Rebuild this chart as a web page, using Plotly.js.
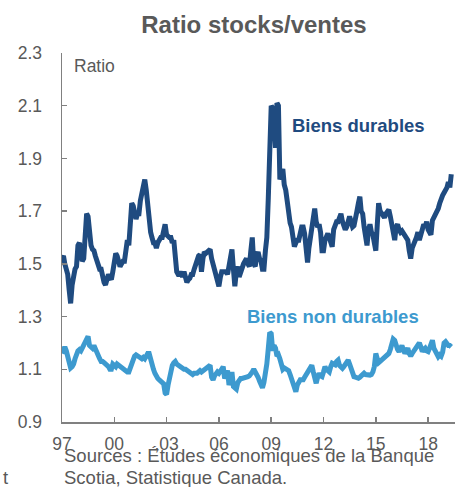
<!DOCTYPE html>
<html>
<head>
<meta charset="utf-8">
<script src="https://cdn.plot.ly/plotly-3.0.1.min.js"></script>
<style>
html,body{margin:0;padding:0;background:#fff;}
#chart{width:456px;height:487px;}
</style>
</head>
<body>
<div id="chart"></div>
<script>
// Monthly data, January 1997 onwards
var startYear = 1997;
var durables = [
1.52,1.53,1.50,1.47,1.46,1.40,1.35,1.42,1.465,1.48,1.49,1.57,
1.58,1.52,1.51,1.52,1.60,1.69,1.68,1.60,1.57,1.555,1.55,1.53,
1.51,1.50,1.48,1.48,1.45,1.43,1.42,1.44,1.46,1.45,1.44,1.47,
1.53,1.54,1.53,1.50,1.49,1.50,1.51,1.51,1.56,1.59,1.57,1.68,
1.73,1.72,1.70,1.67,1.69,1.69,1.74,1.77,1.80,1.82,1.78,1.72,
1.64,1.62,1.60,1.58,1.58,1.56,1.58,1.59,1.60,1.60,1.63,1.65,
1.61,1.60,1.60,1.60,1.58,1.59,1.52,1.47,1.46,1.46,1.47,1.45,
1.47,1.44,1.43,1.44,1.445,1.46,1.46,1.48,1.50,1.52,1.53,1.535,
1.47,1.52,1.545,1.54,1.545,1.55,1.555,1.52,1.50,1.48,1.47,1.45,
1.415,1.45,1.47,1.47,1.47,1.47,1.46,1.50,1.53,1.555,1.48,1.415,
1.47,1.49,1.45,1.47,1.49,1.50,1.51,1.52,1.50,1.49,1.55,1.60,
1.50,1.49,1.53,1.545,1.52,1.51,1.48,1.48,1.55,1.60,1.75,1.95,
2.10,2.09,2.05,1.94,2.11,2.10,1.82,1.84,1.86,1.80,1.78,1.74,
1.69,1.655,1.64,1.60,1.565,1.58,1.59,1.59,1.61,1.64,1.64,1.615,
1.56,1.505,1.56,1.60,1.66,1.69,1.71,1.66,1.64,1.65,1.62,1.55,
1.55,1.59,1.60,1.615,1.60,1.58,1.565,1.63,1.645,1.66,1.66,1.67,
1.69,1.66,1.635,1.63,1.64,1.66,1.68,1.66,1.64,1.645,1.665,1.70,
1.73,1.755,1.70,1.69,1.64,1.59,1.57,1.63,1.65,1.62,1.61,1.58,
1.55,1.65,1.73,1.70,1.69,1.68,1.675,1.69,1.70,1.705,1.68,1.65,
1.62,1.59,1.64,1.65,1.63,1.62,1.625,1.615,1.60,1.60,1.59,1.55,
1.52,1.56,1.57,1.59,1.60,1.62,1.59,1.61,1.64,1.65,1.64,1.66,
1.63,1.62,1.61,1.665,1.675,1.68,1.69,1.71,1.73,1.755,1.76,1.77,
1.78,1.79,1.81,1.79,1.84
];
var nonDurables = [
1.16,1.17,1.185,1.17,1.15,1.12,1.105,1.11,1.12,1.14,1.16,1.17,
1.175,1.17,1.18,1.19,1.20,1.21,1.225,1.19,1.18,1.18,1.19,1.175,
1.17,1.15,1.14,1.13,1.13,1.125,1.12,1.12,1.11,1.10,1.10,1.12,
1.115,1.11,1.12,1.115,1.11,1.11,1.105,1.10,1.095,1.09,1.09,1.105,
1.13,1.145,1.15,1.155,1.15,1.15,1.145,1.14,1.145,1.14,1.15,1.16,
1.16,1.135,1.12,1.10,1.085,1.07,1.065,1.06,1.055,1.05,1.045,1.01,
1.005,1.04,1.07,1.10,1.115,1.125,1.13,1.12,1.115,1.11,1.11,1.105,
1.10,1.10,1.095,1.09,1.085,1.08,1.08,1.085,1.085,1.085,1.09,1.095,
1.09,1.095,1.10,1.105,1.11,1.115,1.115,1.07,1.06,1.075,1.085,1.09,
1.085,1.09,1.10,1.11,1.065,1.08,1.095,1.04,1.07,1.09,1.035,1.03,
1.025,1.05,1.06,1.065,1.065,1.066,1.068,1.07,1.072,1.075,1.08,1.09,
1.10,1.09,1.085,1.07,1.055,1.04,1.03,1.05,1.08,1.12,1.18,1.24,
1.235,1.17,1.19,1.18,1.15,1.155,1.14,1.12,1.10,1.105,1.10,1.10,
1.095,1.08,1.065,1.04,1.02,1.015,1.04,1.055,1.06,1.06,1.06,1.07,
1.08,1.085,1.10,1.11,1.115,1.09,1.075,1.047,1.07,1.085,1.075,1.072,
1.09,1.11,1.10,1.097,1.09,1.11,1.123,1.12,1.117,1.13,1.135,1.115,
1.105,1.104,1.11,1.12,1.13,1.135,1.12,1.10,1.085,1.072,1.07,1.066,
1.066,1.07,1.075,1.08,1.085,1.08,1.078,1.078,1.078,1.08,1.09,1.11,
1.16,1.14,1.125,1.13,1.135,1.14,1.142,1.15,1.154,1.16,1.175,1.19,
1.215,1.21,1.19,1.175,1.167,1.18,1.19,1.175,1.16,1.17,1.18,1.16,
1.15,1.16,1.167,1.175,1.18,1.19,1.20,1.185,1.167,1.175,1.18,1.17,
1.167,1.18,1.20,1.21,1.18,1.165,1.15,1.148,1.155,1.15,1.165,1.20,
1.205,1.195,1.19,1.19,1.185
];
var tickYears = [1997,2000,2003,2006,2009,2012,2015,2018];
var tickLabels = ['97','00',',03','06','09','12','15','18'];

function monthDates(n){
  var out=[];
  for(var i=0;i<n;i++){
    var y=startYear+Math.floor(i/12), m=(i%12)+1;
    out.push(y+'-'+(m<10?'0':'')+m+'-01');
  }
  return out;
}
var dates = monthDates(durables.length);

var W=456,H=487,L=62,R=1,T=53,B=65;
var pw=W-L-R, ph=H-T-B;
function PX(x){return (x-L)/pw;}
function PY(y){return 1-(y-T)/ph;}

var gray='#595959', axisGray='#808080';
var dark='#1f4b80', light='#3d9acf';
var font='"Liberation Sans", Arial, sans-serif';

var traces=[
  {x:dates,y:durables,type:'scatter',mode:'lines',line:{color:dark,width:5},hoverinfo:'skip'},
  {x:dates,y:nonDurables,type:'scatter',mode:'lines',line:{color:light,width:5},hoverinfo:'skip'}
];

var layout={
  width:W,height:H,
  margin:{l:L,r:R,t:T,b:B,pad:0},
  paper_bgcolor:'#fff',plot_bgcolor:'#fff',
  showlegend:false,
  font:{family:font,color:gray,size:17},
  title:{text:'<b>Ratio stocks/ventes</b>',font:{family:font,size:24,color:gray},
         x:254/W,xanchor:'center',xref:'container',y:1-25/H,yanchor:'middle',yref:'container'},
  xaxis:{type:'date',range:['1997-01-01','2019-07-18'],
         tickvals:tickYears.map(function(y){return y+'-01-01';}),ticktext:tickLabels,
         ticks:'inside',ticklen:5,tickwidth:1.5,tickcolor:axisGray,
         showline:true,linecolor:axisGray,linewidth:1.5,showgrid:false,zeroline:false,
         tickfont:{family:font,size:17.5,color:gray},ticklabelstandoff:5,fixedrange:true},
  yaxis:{range:[0.9,2.3],tick0:0.9,dtick:0.2,tickformat:'.1f',
         ticks:'inside',ticklen:5,tickwidth:1.5,tickcolor:axisGray,
         showline:true,linecolor:axisGray,linewidth:1.5,showgrid:false,zeroline:false,
         tickfont:{family:font,size:17.5,color:gray},ticklabelstandoff:15,fixedrange:true},
  annotations:[
    {text:'Ratio',xref:'paper',yref:'paper',x:PX(72),y:PY(66),xanchor:'left',yanchor:'middle',showarrow:false,font:{family:font,size:17.5,color:gray}},
    {text:'<b>Biens durables</b>',xref:'paper',yref:'paper',x:PX(290),y:PY(126),xanchor:'left',yanchor:'middle',showarrow:false,font:{family:font,size:18.5,color:dark}},
    {text:'<b>Biens non durables</b>',xref:'paper',yref:'paper',x:PX(245),y:PY(316),xanchor:'left',yanchor:'middle',showarrow:false,font:{family:font,size:18.5,color:light}},
    {text:'Sources : Études économiques de la Banque',xref:'paper',yref:'paper',x:PX(62),y:PY(455),xanchor:'left',yanchor:'middle',showarrow:false,font:{family:font,size:18.5,color:gray}},
    {text:'Scotia, Statistique Canada.',xref:'paper',yref:'paper',x:PX(62),y:PY(477),xanchor:'left',yanchor:'middle',showarrow:false,font:{family:font,size:18.5,color:gray}},
    {text:'t',xref:'paper',yref:'paper',x:PX(1),y:PY(477),xanchor:'left',yanchor:'middle',showarrow:false,font:{family:font,size:18.5,color:gray}}
  ]
};

Plotly.newPlot('chart',traces,layout,{staticPlot:true,displayModeBar:false});
</script>
</body>
</html>
